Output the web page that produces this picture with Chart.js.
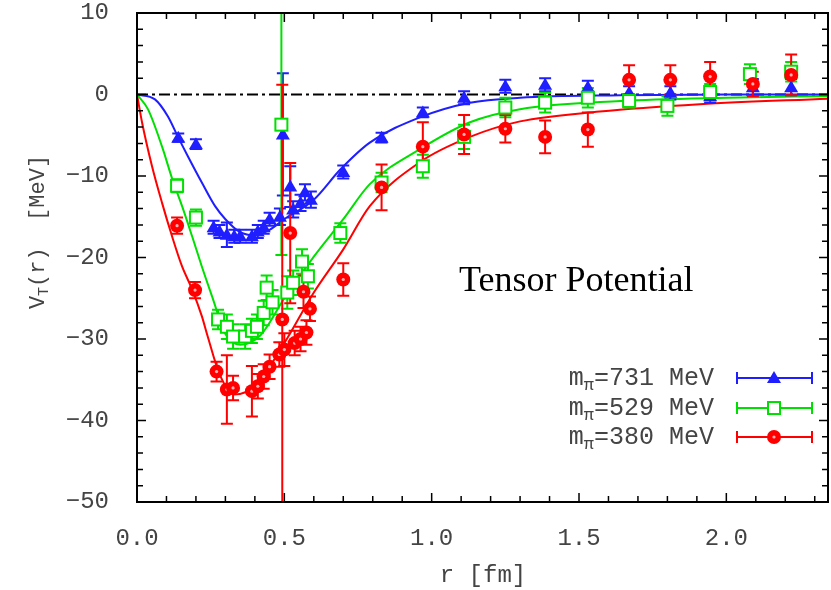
<!DOCTYPE html>
<html><head><meta charset="utf-8">
<script src="https://cdn.jsdelivr.net/npm/chart.js@4.4.0/dist/chart.umd.min.js"></script>
<style>html,body{margin:0;padding:0;background:#fff;}#wrap{width:831px;height:590px;}</style>
</head><body><div id="wrap"><canvas id="c" width="831" height="590"></canvas></div>
<script>
// ---- data (r in fm, V in MeV, err in MeV) ----
const blueLabel = '731';
const blueR = [0.14, 0.20, 0.26, 0.28, 0.305, 0.33, 0.35, 0.39, 0.41, 0.43, 0.45, 0.485, 0.495, 0.52, 0.53, 0.555, 0.57, 0.59, 0.70, 0.83, 0.97, 1.11, 1.25, 1.385, 1.53, 1.67, 1.81, 1.945, 2.09, 2.22];
const blueV = [-5.3, -6.1, -16.3, -16.8, -17.2, -17.4, -17.4, -17.4, -16.8, -16.3, -15.3, -15.0, -4.9, -11.3, -14.1, -13.3, -12.0, -12.9, -9.5, -5.3, -2.2, -0.4, 1.0, 1.2, 0.9, 0.2, 0.2, -0.2, 0.9, 0.9];
const blueE = [0.5, 0.6, 0.8, 0.8, 1.5, 0.8, 0.8, 0.8, 0.8, 0.8, 0.8, 1.0, 7.5, 2.5, 1.0, 1.0, 1.0, 1.0, 0.8, 0.6, 0.6, 0.8, 0.8, 0.8, 0.8, 0.8, 0.8, 0.8, 1.0, 1.0];

const greenLabel = '529';
const greenR = [0.136, 0.20, 0.275, 0.305, 0.326, 0.367, 0.39, 0.407, 0.43, 0.44, 0.46, 0.49, 0.51, 0.53, 0.56, 0.58, 0.69, 0.83, 0.97, 1.11, 1.25, 1.385, 1.53, 1.67, 1.80, 1.945, 2.08, 2.22];
const greenV = [-11.2, -15.1, -27.6, -28.5, -29.7, -29.7, -29.0, -28.5, -26.8, -23.7, -25.5, -3.7, -24.3, -23.1, -20.5, -22.3, -17.0, -10.8, -8.8, -5.2, -1.6, -1.0, -0.4, -0.8, -1.4, 0.3, 2.5, 2.8];
const greenE = [0.8, 1.0, 1.2, 1.5, 1.5, 1.5, 1.5, 1.5, 1.5, 1.5, 1.5, 16.0, 2.0, 1.5, 1.5, 1.5, 1.2, 1.2, 1.4, 1.5, 1.2, 1.2, 1.2, 0.8, 1.2, 1.0, 1.2, 1.2];

const redLabel = '380';
const redR = [0.136, 0.197, 0.27, 0.305, 0.326, 0.39, 0.41, 0.43, 0.45, 0.483, 0.493, 0.50, 0.52, 0.535, 0.555, 0.565, 0.575, 0.587, 0.70, 0.83, 0.97, 1.11, 1.25, 1.385, 1.53, 1.67, 1.81, 1.945, 2.09, 2.22];
const redV = [-16.1, -24.0, -34.0, -36.2, -36.0, -36.4, -35.8, -34.6, -33.4, -31.9, -27.6, -31.3, -17.0, -30.5, -30.0, -24.2, -29.2, -26.3, -22.7, -11.4, -6.4, -4.9, -4.2, -5.2, -4.3, 1.8, 1.8, 2.2, 1.3, 2.4];
const redE = [1.0, 1.0, 1.2, 4.2, 1.5, 3.1, 1.5, 1.5, 1.5, 1.5, 28.8, 2.0, 8.6, 1.5, 1.5, 2.0, 1.5, 1.5, 2.0, 2.8, 3.0, 2.4, 1.7, 2.0, 2.1, 1.8, 1.8, 1.8, 1.5, 2.5];

// fit curves
const blueCurveR = [0, 0.061, 0.105, 0.139, 0.173, 0.22, 0.265, 0.30, 0.35, 0.40, 0.45, 0.50, 0.60, 0.69, 0.79, 0.96, 1.13, 1.30, 1.64, 2.0, 2.35];
const blueCurveV = [0, -0.6, -2.7, -5.2, -7.6, -10.8, -13.7, -15.3, -16.9, -17.3, -16.6, -15.3, -12.9, -9.2, -5.9, -2.8, -1.0, -0.4, -0.1, 0, 0];
const greenCurveR = [0, 0.037, 0.085, 0.12, 0.153, 0.187, 0.22, 0.255, 0.30, 0.35, 0.42, 0.50, 0.60, 0.70, 0.79, 0.96, 1.13, 1.30, 1.64, 2.0, 2.35];
const greenCurveV = [0, -1.8, -6.4, -10.4, -13.7, -17.4, -21.1, -24.8, -29.4, -30.7, -29.5, -25.0, -19.9, -15.3, -11.0, -6.7, -3.4, -1.8, -0.8, -0.4, -0.2];
const redCurveR = [0, 0.017, 0.051, 0.085, 0.119, 0.153, 0.187, 0.22, 0.24, 0.28, 0.33, 0.40, 0.50, 0.60, 0.70, 0.79, 0.96, 1.13, 1.30, 1.57, 1.91, 2.35];
const redCurveV = [0, -3.4, -8.8, -13.3, -17.4, -21.1, -23.9, -27.2, -29.7, -34.3, -36.8, -35.8, -30.5, -24.3, -19.0, -13.7, -8.3, -5.2, -3.3, -2.1, -1.2, -0.5];

const xTicks = [0.0, 0.5, 1.0, 1.5, 2.0];
const yTicks = [10, 0, -10, -20, -30, -40, -50];

const BLUE = '#1e1eff', GREEN = '#00e000', RED = '#ff0000';

const pts = (R, V) => R.map((r, i) => ({x: r, y: V[i]}));
const series = [
  {label: blueLabel, r: blueR, v: blueV, e: blueE, color: BLUE, style: 'triangle'},
  {label: greenLabel, r: greenR, v: greenV, e: greenE, color: GREEN, style: 'rect'},
  {label: redLabel, r: redR, v: redV, e: redE, color: RED, style: 'circle'}
];

function drawMarker(ctx, style, color, px, py) {
  ctx.save();
  ctx.lineWidth = 2;
  if (style === 'triangle') {
    ctx.fillStyle = color;
    ctx.beginPath();
    ctx.moveTo(px, py - 7); ctx.lineTo(px + 7, py + 5); ctx.lineTo(px - 7, py + 5); ctx.closePath();
    ctx.fill();
  } else if (style === 'rect') {
    ctx.strokeStyle = color; ctx.fillStyle = '#fff';
    ctx.fillRect(px - 6, py - 6, 12, 12);
    ctx.strokeRect(px - 6, py - 6, 12, 12);
  } else {
    ctx.fillStyle = color;
    ctx.beginPath(); ctx.arc(px, py, 7, 0, Math.PI * 2); ctx.fill();
    ctx.fillStyle = '#ffb0b0';
    ctx.beginPath(); ctx.arc(px, py, 1.6, 0, Math.PI * 2); ctx.fill();
  }
  ctx.restore();
}

const deco = {
  id: 'deco',
  beforeDatasetsDraw(chart) {
    const {ctx, chartArea: a, scales: {x, y}} = chart;
    ctx.save();
    ctx.beginPath(); ctx.rect(a.left, a.top, a.right - a.left, a.bottom - a.top); ctx.clip();
    const y0 = y.getPixelForValue(0);
    ctx.strokeStyle = '#000'; ctx.lineWidth = 1.8; ctx.setLineDash([11, 4, 3, 4]);
    ctx.beginPath(); ctx.moveTo(a.left, y0); ctx.lineTo(a.right, y0); ctx.stroke();
    ctx.setLineDash([]);
    ctx.restore();
  },
  afterDatasetsDraw(chart) {
    const {ctx, chartArea: a, scales: {x, y}} = chart;
    ctx.save();
    ctx.beginPath(); ctx.rect(a.left, a.top, a.right - a.left, a.bottom - a.top); ctx.clip();
    series.forEach(s => {
      ctx.strokeStyle = s.color; ctx.lineWidth = 2;
      s.r.forEach((r, i) => {
        const px = x.getPixelForValue(r);
        const t = y.getPixelForValue(s.v[i] + s.e[i]);
        const b = y.getPixelForValue(s.v[i] - s.e[i]);
        ctx.beginPath();
        ctx.moveTo(px, t); ctx.lineTo(px, b);
        ctx.moveTo(px - 6, t); ctx.lineTo(px + 6, t);
        ctx.moveTo(px - 6, b); ctx.lineTo(px + 6, b);
        ctx.stroke();
      });
    });
    series.forEach(s => {
      s.r.forEach((r, i) => drawMarker(ctx, s.style, s.color, x.getPixelForValue(r), y.getPixelForValue(s.v[i])));
    });
    ctx.restore();

    ctx.save();
    ctx.strokeStyle = '#000'; ctx.lineWidth = 2;
    ctx.strokeRect(a.left, a.top, a.right - a.left, a.bottom - a.top);
    ctx.lineWidth = 1.5;
    ctx.beginPath();
    for (let k = 0; k <= 23; k++) {
      const v = k / 10;
      const px = x.getPixelForValue(v);
      if (px > a.right - 1) break;
      const L = (k % 5 === 0) ? 9 : 6;
      ctx.moveTo(px, a.bottom); ctx.lineTo(px, a.bottom - L);
      ctx.moveTo(px, a.top); ctx.lineTo(px, a.top + L);
    }
    for (let v = -50; v <= 10; v += 2) {
      const py = y.getPixelForValue(v);
      const L = (v % 10 === 0) ? 9 : 6;
      ctx.moveTo(a.left, py); ctx.lineTo(a.left + L, py);
      ctx.moveTo(a.right, py); ctx.lineTo(a.right - L, py);
    }
    ctx.stroke();
    ctx.restore();

    ctx.save();
    ctx.translate(38, 232);
    ctx.rotate(-Math.PI / 2);
    ctx.fillStyle = '#444';
    ctx.textBaseline = 'middle';
    const big = '22px "Liberation Mono"', small = '15px "Liberation Mono"';
    ctx.font = big; const w1 = ctx.measureText('V').width;
    ctx.font = small; const w2 = ctx.measureText('T').width;
    ctx.font = big; const w3 = ctx.measureText('(r)  [MeV]').width;
    let sx = -(w1 + w2 + w3) / 2;
    ctx.font = big; ctx.fillText('V', sx, 0); sx += w1;
    ctx.font = small; ctx.fillText('T', sx, 6); sx += w2;
    ctx.font = big; ctx.fillText('(r)  [MeV]', sx, 0);
    ctx.restore();

    ctx.save();
    ctx.fillStyle = '#444'; ctx.font = '24px "Liberation Mono"';
    ctx.textAlign = 'center'; ctx.textBaseline = 'middle';
    ctx.fillText('r [fm]', 483, 576);
    ctx.restore();

    ctx.save();
    ctx.fillStyle = '#000'; ctx.font = '36px "Liberation Serif"';
    ctx.textBaseline = 'alphabetic';
    ctx.fillText('Tensor Potential', 459, 291);
    ctx.restore();

    const rows = [378, 408, 437];
    series.forEach((s, i) => {
      const ry = rows[i];
      ctx.save();
      ctx.fillStyle = '#444'; ctx.textBaseline = 'middle';
      const fb = '25px "Liberation Mono"', fs = '17px "Liberation Mono"';
      const rest = '=' + s.label + ' MeV';
      ctx.font = fb; const wr = ctx.measureText(rest).width; const wm = ctx.measureText('m').width;
      ctx.font = fs; const wp = ctx.measureText('\u03c0').width;
      let tx = 714 - wr - wp - wm;
      ctx.font = fb; ctx.fillText('m', tx, ry); tx += wm;
      ctx.font = fs; ctx.fillText('\u03c0', tx, ry + 7); tx += wp;
      ctx.font = fb; ctx.fillText(rest, tx, ry);
      ctx.strokeStyle = s.color; ctx.lineWidth = 2;
      ctx.beginPath();
      ctx.moveTo(737, ry); ctx.lineTo(812, ry);
      ctx.moveTo(737, ry - 6); ctx.lineTo(737, ry + 6);
      ctx.moveTo(812, ry - 6); ctx.lineTo(812, ry + 6);
      ctx.stroke();
      ctx.restore();
      drawMarker(ctx, s.style, s.color, 774, ry);
    });
  }
};

const curveDs = (R, V, color) => ({
  type: 'scatter', data: pts(R, V), showLine: true, borderColor: color, borderWidth: 2,
  pointRadius: 0, cubicInterpolationMode: 'monotone', fill: false
});

new Chart(document.getElementById('c'), {
  type: 'scatter',
  data: {
    datasets: [
      curveDs(blueCurveR, blueCurveV, BLUE),
      curveDs(greenCurveR, greenCurveV, GREEN),
      curveDs(redCurveR, redCurveV, RED)
    ]
  },
  options: {
    responsive: false,
    devicePixelRatio: 1,
    animation: false,
    layout: {padding: {top: 13, right: 3, left: 0, bottom: 0}},
    plugins: {legend: {display: false}, tooltip: {enabled: false}},
    scales: {
      x: {
        type: 'linear', min: 0, max: 2.345,
        grid: {display: false}, border: {display: false},
        afterBuildTicks: s => { s.ticks = xTicks.map(v => ({value: v})); },
        afterFit: s => { s.height = 88; s.paddingLeft = 0; s.paddingRight = 0; },
        ticks: {
          padding: 14, color: '#444', font: {family: 'Liberation Mono', size: 24},
          callback: v => Number(v).toFixed(1), maxRotation: 0, autoSkip: false
        }
      },
      y: {
        type: 'linear', min: -50, max: 10,
        grid: {display: false}, border: {display: false},
        afterBuildTicks: s => { s.ticks = yTicks.map(v => ({value: v})); },
        afterFit: s => { s.width = 137; s.paddingTop = 0; s.paddingBottom = 0; },
        ticks: {
          padding: 20, color: '#444', font: {family: 'Liberation Mono', size: 24},
          callback: v => String(v).replace('-', '\u2212'), autoSkip: false
        }
      }
    }
  },
  plugins: [deco]
});
</script>
</body></html>
